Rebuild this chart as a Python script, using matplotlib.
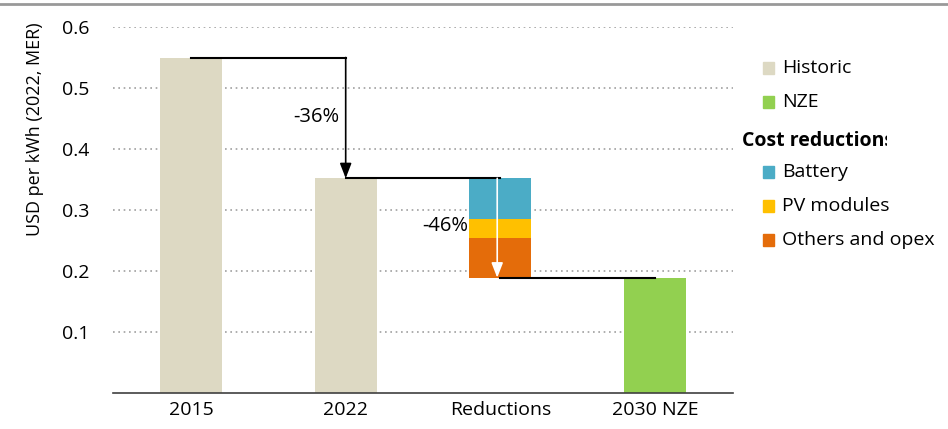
import matplotlib
matplotlib.use("Agg")
import matplotlib.pyplot as plt
from matplotlib.patches import Rectangle
from matplotlib.transforms import Bbox

plt.rcParams['font.family'] = ['Open Sans', 'DejaVu Sans']

categories = ["2015", "2022", "Reductions", "2030 NZE"]
historic = [0.55, 0.352]
nze = 0.189
reductions_labels = ["Battery", "PV modules", "Others and opex"]
reductions_values = [0.067, 0.031, 0.065]
pct_labels = ["-36%", "-46%"]
yticks = [0.1, 0.2, 0.3, 0.4, 0.5, 0.6]

c_hist = "#DDD9C3"
c_nze = "#92D050"
c_red = ["#4BACC6", "#FFC000", "#E46C0A"]

fig = plt.figure(figsize=(9.48, 4.29), dpi=100)
ax = fig.add_axes([113/948, 36/429, 620/948, 366/429])

x = list(range(len(categories)))
w = 0.4
ax.bar(x[0:2], historic, width=w, color=c_hist, zorder=2)
ax.bar(x[3], nze, width=w, color=c_nze, zorder=2)
top = historic[1]
for v, c in zip(reductions_values, c_red):
    ax.bar(x[2], v, bottom=top - v, width=w, color=c, zorder=2)
    top -= v

# connectors
ax.plot([x[0], x[1]], [historic[0], historic[0]], color="black", lw=1.5, zorder=3)
ax.annotate("", xy=(x[1], historic[1]), xytext=(x[1], historic[0]),
            arrowprops=dict(arrowstyle="-|>,head_length=0.9,head_width=0.35", color="black", lw=1.2,
                            shrinkA=0, shrinkB=0), zorder=4)
ax.plot([x[1], x[2]], [historic[1], historic[1]], color="black", lw=1.5, zorder=3)
ax.annotate("", xy=(x[2] - 0.02, nze), xytext=(x[2] - 0.02, historic[1]),
            arrowprops=dict(arrowstyle="-|>,head_length=0.9,head_width=0.35", color="white", lw=1.2,
                            shrinkA=0, shrinkB=0), zorder=4)
ax.plot([x[2], x[3]], [nze, nze], color="black", lw=1.5, zorder=3)

ax.text(x[1] - 0.04, 0.452, pct_labels[0], ha="right", va="center", fontsize=14.5, zorder=5)
ax.text(x[2] - 0.21, 0.274, pct_labels[1], ha="right", va="center", fontsize=14.5, zorder=5)

ax.set_xlim(-0.505, 3.505)
ax.set_ylim(0, 0.6)
ax.set_yticks(yticks)
ax.set_yticklabels([f"{t:.1f}" for t in yticks])
ax.set_xticks(x)
ax.set_xticklabels(categories)
ax.yaxis.grid(True, linestyle=(0, (1, 2.2)), color="#A0A0A0", lw=1.2, zorder=0)
ax.set_axisbelow(True)
for s in ["top", "right", "left"]:
    ax.spines[s].set_visible(False)
ax.spines["bottom"].set_color("#404040")
ax.spines["bottom"].set_linewidth(1.2)
ax.tick_params(axis="y", length=0, pad=17, labelsize=14)
ax.tick_params(axis="x", length=0, pad=6, labelsize=14)
ax.set_ylabel("USD per kWh (2022, MER)", fontsize=13)
ax.yaxis.set_label_coords(-0.111, 0.721)

# top rule
fig.add_artist(plt.Line2D([0, 1], [1 - 4/429, 1 - 4/429], color="#999999", lw=2, transform=fig.transFigure))

# legend
def leg_item(ypix, color, label):
    fig.add_artist(Rectangle((763/948, 1 - (ypix + 6)/429), 11/948, 12/429, color=color,
                             transform=fig.transFigure))
    fig.text(782/948, 1 - ypix/429, label, fontsize=14, va="center", ha="left")

leg_item(68, c_hist, "Historic")
leg_item(102, c_nze, "NZE")
t = fig.text(742/948, 1 - 141/429, "Cost reductions", fontsize=14, fontweight="bold", va="center", ha="left")
t.set_clip_box(Bbox([[0, 0], [887, 429]]))
t.set_clip_on(True)
for ypix, c, lab in zip([172, 206, 240], c_red, reductions_labels):
    leg_item(ypix, c, lab)

fig.savefig("out.png", dpi=100)
